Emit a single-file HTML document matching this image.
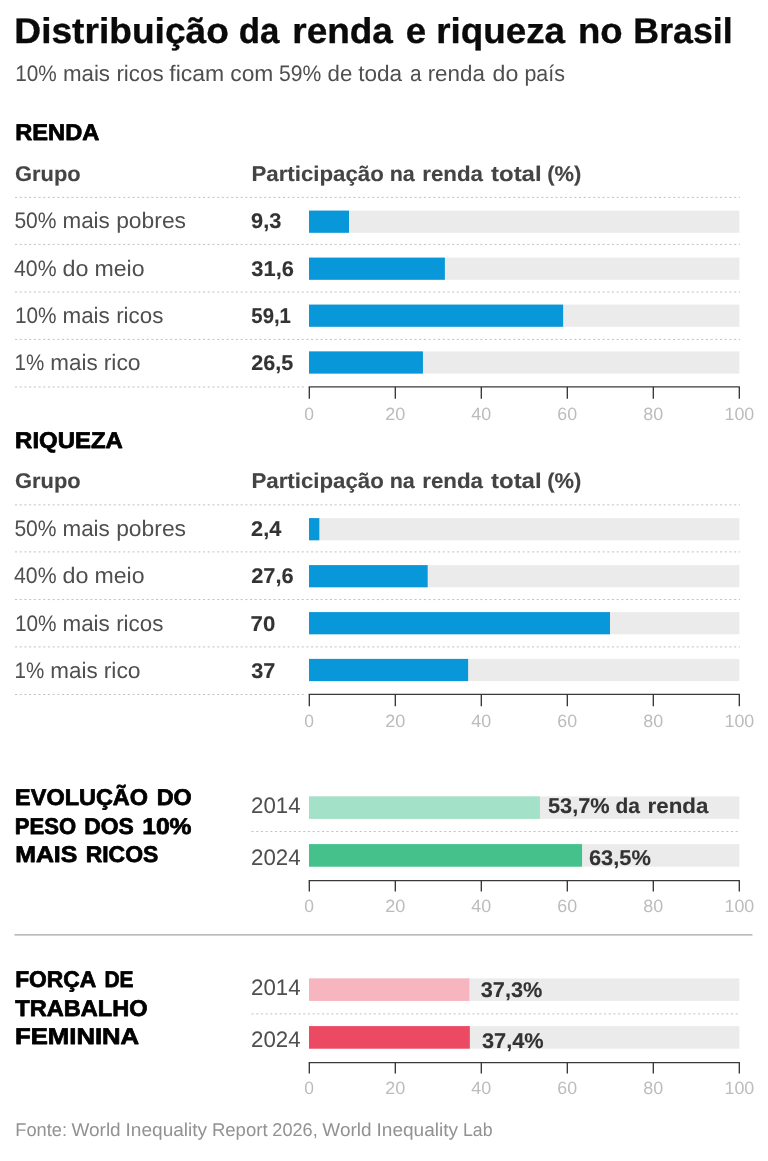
<!DOCTYPE html>
<html lang="pt-BR">
<head>
<meta charset="utf-8">
<title>Distribuição da renda e riqueza no Brasil</title>
<style>
html,body{margin:0;padding:0;background:#fff;}
body{width:768px;height:1161px;overflow:hidden;}
svg{display:block;font-family:"Liberation Sans", "DejaVu Sans", sans-serif;text-rendering:geometricPrecision;}
text{white-space:pre;}
</style>
</head>
<body>
<svg width="768" height="1161" viewBox="0 0 768 1161">
<rect width="768" height="1161" fill="#ffffff"/>
<g class="header">
<text id="t1" y="43.3" font-size="35.8" font-weight="700" fill="#0a0a0a" stroke="#0a0a0a" stroke-width="0.35" stroke-linejoin="round"><tspan x="14.33" textLength="214.58" lengthAdjust="spacingAndGlyphs">Distribuição</tspan> <tspan x="238.73" textLength="40.62" lengthAdjust="spacingAndGlyphs">da</tspan> <tspan x="292.28" textLength="100.64" lengthAdjust="spacingAndGlyphs">renda</tspan> <tspan x="405.76" textLength="20.36" lengthAdjust="spacingAndGlyphs">e</tspan> <tspan x="436.32" textLength="128.74" lengthAdjust="spacingAndGlyphs">riqueza</tspan> <tspan x="578.04" textLength="44.67" lengthAdjust="spacingAndGlyphs">no</tspan> <tspan x="633.37" textLength="99.28" lengthAdjust="spacingAndGlyphs">Brasil</tspan></text>
<text id="t2" y="80.6" font-size="22.4" font-weight="400" fill="#4f4f4f"><tspan x="15.13" textLength="41.57" lengthAdjust="spacingAndGlyphs">10%</tspan> <tspan x="62.89" textLength="47.15" lengthAdjust="spacingAndGlyphs">mais</tspan> <tspan x="116.39" textLength="47.18" lengthAdjust="spacingAndGlyphs">ricos</tspan> <tspan x="169.34" textLength="54.96" lengthAdjust="spacingAndGlyphs">ficam</tspan> <tspan x="230.24" textLength="43.11" lengthAdjust="spacingAndGlyphs">com</tspan> <tspan x="279.07" textLength="42.31" lengthAdjust="spacingAndGlyphs">59%</tspan> <tspan x="327.53" textLength="24.72" lengthAdjust="spacingAndGlyphs">de</tspan> <tspan x="358.21" textLength="43.98" lengthAdjust="spacingAndGlyphs">toda</tspan> <tspan x="409.88" textLength="11.56" lengthAdjust="spacingAndGlyphs">a</tspan> <tspan x="427.66" textLength="57.16" lengthAdjust="spacingAndGlyphs">renda</tspan> <tspan x="492.5" textLength="25.78" lengthAdjust="spacingAndGlyphs">do</tspan> <tspan x="524.45" textLength="40.46" lengthAdjust="spacingAndGlyphs">país</tspan></text>
</g>
<g class="table">
<text id="t3" x="15.24" y="140.15" font-size="22.75" font-weight="700" fill="#000000" textLength="84.07" lengthAdjust="spacingAndGlyphs" stroke="#000000" stroke-width="0.75" stroke-linejoin="round">RENDA</text>
<text id="t4" x="14.99" y="180.9" font-size="21.3" font-weight="700" fill="#444" textLength="65.63" lengthAdjust="spacingAndGlyphs" stroke="#444" stroke-width="0.12" stroke-linejoin="round">Grupo</text>
<text id="t5" y="180.9" font-size="21.3" font-weight="700" fill="#444" stroke="#444" stroke-width="0.12" stroke-linejoin="round"><tspan x="251.44" textLength="132.43" lengthAdjust="spacingAndGlyphs">Participação</tspan> <tspan x="389.71" textLength="25.08" lengthAdjust="spacingAndGlyphs">na</tspan> <tspan x="422.23" textLength="60.78" lengthAdjust="spacingAndGlyphs">renda</tspan> <tspan x="491.03" textLength="50.6" lengthAdjust="spacingAndGlyphs">total</tspan> <tspan x="547.16" textLength="34.13" lengthAdjust="spacingAndGlyphs">(%)</tspan></text>
<line x1="15" x2="740" y1="197.35" y2="197.35" stroke="#c2c2c2" stroke-width="1" stroke-dasharray="2.1 2.6"/>
<text id="t6" y="228.4" font-size="22.4" font-weight="400" fill="#4f4f4f"><tspan x="14.41" textLength="42.17" lengthAdjust="spacingAndGlyphs">50%</tspan> <tspan x="62.51" textLength="47.31" lengthAdjust="spacingAndGlyphs">mais</tspan> <tspan x="116.17" textLength="69.88" lengthAdjust="spacingAndGlyphs">pobres</tspan></text>
<text id="t7" x="251.04" y="228.4" font-size="21.3" font-weight="700" fill="#333" textLength="30.34" lengthAdjust="spacingAndGlyphs" stroke="#333" stroke-width="0.12" stroke-linejoin="round">9,3</text>
<rect x="309" y="210.6" width="430.4" height="22.2" fill="#ebebeb"/>
<rect x="309" y="210.6" width="39.99" height="22.2" fill="#0897d8"/>
<line x1="15" x2="740" y1="244.4" y2="244.4" stroke="#c2c2c2" stroke-width="1" stroke-dasharray="2.1 2.6"/>
<text id="t8" y="275.5" font-size="22.4" font-weight="400" fill="#4f4f4f"><tspan x="14.06" textLength="42.51" lengthAdjust="spacingAndGlyphs">40%</tspan> <tspan x="62.46" textLength="25.94" lengthAdjust="spacingAndGlyphs">do</tspan> <tspan x="94.46" textLength="50.1" lengthAdjust="spacingAndGlyphs">meio</tspan></text>
<text id="t9" x="251.39" y="275.5" font-size="21.3" font-weight="700" fill="#333" textLength="42.46" lengthAdjust="spacingAndGlyphs" stroke="#333" stroke-width="0.12" stroke-linejoin="round">31,6</text>
<rect x="309" y="257.6" width="430.4" height="22.2" fill="#ebebeb"/>
<rect x="309" y="257.6" width="135.88" height="22.2" fill="#0897d8"/>
<line x1="15" x2="740" y1="292.05" y2="292.05" stroke="#c2c2c2" stroke-width="1" stroke-dasharray="2.1 2.6"/>
<text id="t10" y="323" font-size="22.4" font-weight="400" fill="#4f4f4f"><tspan x="14.89" textLength="41.62" lengthAdjust="spacingAndGlyphs">10%</tspan> <tspan x="62.51" textLength="47.31" lengthAdjust="spacingAndGlyphs">mais</tspan> <tspan x="116.16" textLength="47.15" lengthAdjust="spacingAndGlyphs">ricos</tspan></text>
<text id="t11" x="251.33" y="323" font-size="21.3" font-weight="700" fill="#333" textLength="39.6" lengthAdjust="spacingAndGlyphs" stroke="#333" stroke-width="0.12" stroke-linejoin="round">59,1</text>
<rect x="309" y="304.6" width="430.4" height="22.2" fill="#ebebeb"/>
<rect x="309" y="304.6" width="254.13" height="22.2" fill="#0897d8"/>
<line x1="15" x2="740" y1="339.4" y2="339.4" stroke="#c2c2c2" stroke-width="1" stroke-dasharray="2.1 2.6"/>
<text id="t12" y="370.2" font-size="22.4" font-weight="400" fill="#4f4f4f"><tspan x="14.56" textLength="29.74" lengthAdjust="spacingAndGlyphs">1%</tspan> <tspan x="50.39" textLength="47.33" lengthAdjust="spacingAndGlyphs">mais</tspan> <tspan x="103.66" textLength="36.99" lengthAdjust="spacingAndGlyphs">rico</tspan></text>
<text id="t13" x="251.32" y="370.2" font-size="21.3" font-weight="700" fill="#333" textLength="42.04" lengthAdjust="spacingAndGlyphs" stroke="#333" stroke-width="0.12" stroke-linejoin="round">26,5</text>
<rect x="309" y="351.4" width="430.4" height="22.2" fill="#ebebeb"/>
<rect x="309" y="351.4" width="113.95" height="22.2" fill="#0897d8"/>
<line x1="15" x2="306" y1="387" y2="387" stroke="#c2c2c2" stroke-width="1" stroke-dasharray="2.1 2.6"/>
<line x1="308.65" x2="739.9" y1="386.9" y2="386.9" stroke="#3a3a3a" stroke-width="1.3"/>
<line x1="309.3" x2="309.3" y1="386.9" y2="398.7" stroke="#303030" stroke-width="1.3"/>
<text id="t14" x="309.18" y="419.6" font-size="17.8" font-weight="400" fill="#bcbcbc" text-anchor="middle" textLength="9.71" lengthAdjust="spacingAndGlyphs">0</text>
<line x1="395.3" x2="395.3" y1="386.9" y2="398.7" stroke="#303030" stroke-width="1.3"/>
<text id="t15" x="395.23" y="419.6" font-size="17.8" font-weight="400" fill="#bcbcbc" text-anchor="middle" textLength="20.1" lengthAdjust="spacingAndGlyphs">20</text>
<line x1="481.3" x2="481.3" y1="386.9" y2="398.7" stroke="#303030" stroke-width="1.3"/>
<text id="t16" x="481.21" y="419.6" font-size="17.8" font-weight="400" fill="#bcbcbc" text-anchor="middle" textLength="19.92" lengthAdjust="spacingAndGlyphs">40</text>
<line x1="567.3" x2="567.3" y1="386.9" y2="398.7" stroke="#303030" stroke-width="1.3"/>
<text id="t17" x="567.24" y="419.6" font-size="17.8" font-weight="400" fill="#bcbcbc" text-anchor="middle" textLength="19.79" lengthAdjust="spacingAndGlyphs">60</text>
<line x1="653.3" x2="653.3" y1="386.9" y2="398.7" stroke="#303030" stroke-width="1.3"/>
<text id="t18" x="653.25" y="419.6" font-size="17.8" font-weight="400" fill="#bcbcbc" text-anchor="middle" textLength="19.93" lengthAdjust="spacingAndGlyphs">80</text>
<line x1="739.3" x2="739.3" y1="386.9" y2="398.7" stroke="#303030" stroke-width="1.3"/>
<text id="t19" x="739.37" y="419.6" font-size="17.8" font-weight="400" fill="#bcbcbc" text-anchor="middle" textLength="29.75" lengthAdjust="spacingAndGlyphs">100</text>
</g>
<g class="table">
<text id="t20" x="15.14" y="447.65" font-size="22.75" font-weight="700" fill="#000000" textLength="107.71" lengthAdjust="spacingAndGlyphs" stroke="#000000" stroke-width="0.75" stroke-linejoin="round">RIQUEZA</text>
<text id="t21" x="14.99" y="488.4" font-size="21.3" font-weight="700" fill="#444" textLength="65.63" lengthAdjust="spacingAndGlyphs" stroke="#444" stroke-width="0.12" stroke-linejoin="round">Grupo</text>
<text id="t22" y="488.4" font-size="21.3" font-weight="700" fill="#444" stroke="#444" stroke-width="0.12" stroke-linejoin="round"><tspan x="251.44" textLength="132.43" lengthAdjust="spacingAndGlyphs">Participação</tspan> <tspan x="389.71" textLength="25.08" lengthAdjust="spacingAndGlyphs">na</tspan> <tspan x="422.23" textLength="60.78" lengthAdjust="spacingAndGlyphs">renda</tspan> <tspan x="491.03" textLength="50.6" lengthAdjust="spacingAndGlyphs">total</tspan> <tspan x="547.16" textLength="34.13" lengthAdjust="spacingAndGlyphs">(%)</tspan></text>
<line x1="15" x2="740" y1="504.85" y2="504.85" stroke="#c2c2c2" stroke-width="1" stroke-dasharray="2.1 2.6"/>
<text id="t23" y="535.9" font-size="22.4" font-weight="400" fill="#4f4f4f"><tspan x="14.41" textLength="42.17" lengthAdjust="spacingAndGlyphs">50%</tspan> <tspan x="62.51" textLength="47.31" lengthAdjust="spacingAndGlyphs">mais</tspan> <tspan x="116.17" textLength="69.88" lengthAdjust="spacingAndGlyphs">pobres</tspan></text>
<text id="t24" x="251.12" y="535.9" font-size="21.3" font-weight="700" fill="#333" textLength="30.19" lengthAdjust="spacingAndGlyphs" stroke="#333" stroke-width="0.12" stroke-linejoin="round">2,4</text>
<rect x="309" y="518.1" width="430.4" height="22.2" fill="#ebebeb"/>
<rect x="309" y="518.1" width="10.32" height="22.2" fill="#0897d8"/>
<line x1="15" x2="740" y1="551.9" y2="551.9" stroke="#c2c2c2" stroke-width="1" stroke-dasharray="2.1 2.6"/>
<text id="t25" y="583" font-size="22.4" font-weight="400" fill="#4f4f4f"><tspan x="14.06" textLength="42.51" lengthAdjust="spacingAndGlyphs">40%</tspan> <tspan x="62.46" textLength="25.94" lengthAdjust="spacingAndGlyphs">do</tspan> <tspan x="94.46" textLength="50.1" lengthAdjust="spacingAndGlyphs">meio</tspan></text>
<text id="t26" x="251.25" y="583" font-size="21.3" font-weight="700" fill="#333" textLength="42.42" lengthAdjust="spacingAndGlyphs" stroke="#333" stroke-width="0.12" stroke-linejoin="round">27,6</text>
<rect x="309" y="565.1" width="430.4" height="22.2" fill="#ebebeb"/>
<rect x="309" y="565.1" width="118.68" height="22.2" fill="#0897d8"/>
<line x1="15" x2="740" y1="599.55" y2="599.55" stroke="#c2c2c2" stroke-width="1" stroke-dasharray="2.1 2.6"/>
<text id="t27" y="630.5" font-size="22.4" font-weight="400" fill="#4f4f4f"><tspan x="14.89" textLength="41.62" lengthAdjust="spacingAndGlyphs">10%</tspan> <tspan x="62.51" textLength="47.31" lengthAdjust="spacingAndGlyphs">mais</tspan> <tspan x="116.16" textLength="47.15" lengthAdjust="spacingAndGlyphs">ricos</tspan></text>
<text id="t28" x="250.61" y="630.5" font-size="21.3" font-weight="700" fill="#333" textLength="24.71" lengthAdjust="spacingAndGlyphs" stroke="#333" stroke-width="0.12" stroke-linejoin="round">70</text>
<rect x="309" y="612.1" width="430.4" height="22.2" fill="#ebebeb"/>
<rect x="309" y="612.1" width="301" height="22.2" fill="#0897d8"/>
<line x1="15" x2="740" y1="646.9" y2="646.9" stroke="#c2c2c2" stroke-width="1" stroke-dasharray="2.1 2.6"/>
<text id="t29" y="677.7" font-size="22.4" font-weight="400" fill="#4f4f4f"><tspan x="14.56" textLength="29.74" lengthAdjust="spacingAndGlyphs">1%</tspan> <tspan x="50.39" textLength="47.33" lengthAdjust="spacingAndGlyphs">mais</tspan> <tspan x="103.66" textLength="36.99" lengthAdjust="spacingAndGlyphs">rico</tspan></text>
<text id="t30" x="251.34" y="677.7" font-size="21.3" font-weight="700" fill="#333" textLength="24.06" lengthAdjust="spacingAndGlyphs" stroke="#333" stroke-width="0.12" stroke-linejoin="round">37</text>
<rect x="309" y="658.9" width="430.4" height="22.2" fill="#ebebeb"/>
<rect x="309" y="658.9" width="159.1" height="22.2" fill="#0897d8"/>
<line x1="15" x2="306" y1="694.5" y2="694.5" stroke="#c2c2c2" stroke-width="1" stroke-dasharray="2.1 2.6"/>
<line x1="308.65" x2="739.9" y1="694.4" y2="694.4" stroke="#3a3a3a" stroke-width="1.3"/>
<line x1="309.3" x2="309.3" y1="694.4" y2="706.2" stroke="#303030" stroke-width="1.3"/>
<text id="t31" x="309.18" y="727.1" font-size="17.8" font-weight="400" fill="#bcbcbc" text-anchor="middle" textLength="9.71" lengthAdjust="spacingAndGlyphs">0</text>
<line x1="395.3" x2="395.3" y1="694.4" y2="706.2" stroke="#303030" stroke-width="1.3"/>
<text id="t32" x="395.23" y="727.1" font-size="17.8" font-weight="400" fill="#bcbcbc" text-anchor="middle" textLength="20.1" lengthAdjust="spacingAndGlyphs">20</text>
<line x1="481.3" x2="481.3" y1="694.4" y2="706.2" stroke="#303030" stroke-width="1.3"/>
<text id="t33" x="481.21" y="727.1" font-size="17.8" font-weight="400" fill="#bcbcbc" text-anchor="middle" textLength="19.92" lengthAdjust="spacingAndGlyphs">40</text>
<line x1="567.3" x2="567.3" y1="694.4" y2="706.2" stroke="#303030" stroke-width="1.3"/>
<text id="t34" x="567.24" y="727.1" font-size="17.8" font-weight="400" fill="#bcbcbc" text-anchor="middle" textLength="19.79" lengthAdjust="spacingAndGlyphs">60</text>
<line x1="653.3" x2="653.3" y1="694.4" y2="706.2" stroke="#303030" stroke-width="1.3"/>
<text id="t35" x="653.25" y="727.1" font-size="17.8" font-weight="400" fill="#bcbcbc" text-anchor="middle" textLength="19.93" lengthAdjust="spacingAndGlyphs">80</text>
<line x1="739.3" x2="739.3" y1="694.4" y2="706.2" stroke="#303030" stroke-width="1.3"/>
<text id="t36" x="739.37" y="727.1" font-size="17.8" font-weight="400" fill="#bcbcbc" text-anchor="middle" textLength="29.75" lengthAdjust="spacingAndGlyphs">100</text>
</g>
<g class="duo">
<text id="t37" y="805.15" font-size="22.75" font-weight="700" fill="#000000" stroke="#000000" stroke-width="0.75" stroke-linejoin="round"><tspan x="15.12" textLength="132.89" lengthAdjust="spacingAndGlyphs">EVOLUÇÃO</tspan> <tspan x="156.68" textLength="35.07" lengthAdjust="spacingAndGlyphs">DO</tspan></text>
<text id="t38" y="833.5" font-size="22.75" font-weight="700" fill="#000000" stroke="#000000" stroke-width="0.75" stroke-linejoin="round"><tspan x="14.86" textLength="61.31" lengthAdjust="spacingAndGlyphs">PESO</tspan> <tspan x="84.19" textLength="49.57" lengthAdjust="spacingAndGlyphs">DOS</tspan> <tspan x="142.21" textLength="49.29" lengthAdjust="spacingAndGlyphs">10%</tspan></text>
<text id="t39" y="861.85" font-size="22.75" font-weight="700" fill="#000000" stroke="#000000" stroke-width="0.75" stroke-linejoin="round"><tspan x="15.16" textLength="62.19" lengthAdjust="spacingAndGlyphs">MAIS</tspan> <tspan x="85.66" textLength="72.64" lengthAdjust="spacingAndGlyphs">RICOS</tspan></text>
<text id="t40" x="251.01" y="813" font-size="22.4" font-weight="400" fill="#4f4f4f" textLength="49.58" lengthAdjust="spacingAndGlyphs">2014</text>
<rect x="309" y="796.4" width="430.4" height="22.5" fill="#ebebeb"/>
<rect x="309" y="796.4" width="230.91" height="22.5" fill="#a3e2c8"/>
<text id="t41" y="812.8" font-size="21.3" font-weight="700" fill="#333" stroke="#333" stroke-width="0.12" stroke-linejoin="round"><tspan x="548.01" textLength="61.67" lengthAdjust="spacingAndGlyphs">53,7%</tspan> <tspan x="615.4" textLength="24.49" lengthAdjust="spacingAndGlyphs">da</tspan> <tspan x="647.56" textLength="60.85" lengthAdjust="spacingAndGlyphs">renda</tspan></text>
<line x1="251.5" x2="740" y1="831.55" y2="831.55" stroke="#c2c2c2" stroke-width="1" stroke-dasharray="2.1 2.6"/>
<text id="t42" x="251.01" y="865.2" font-size="22.4" font-weight="400" fill="#4f4f4f" textLength="49.58" lengthAdjust="spacingAndGlyphs">2024</text>
<rect x="309" y="844.1" width="430.4" height="22.6" fill="#ebebeb"/>
<rect x="309" y="844.1" width="273.05" height="22.6" fill="#45c28c"/>
<text id="t43" x="588.95" y="865.1" font-size="21.3" font-weight="700" fill="#333" textLength="61.93" lengthAdjust="spacingAndGlyphs" stroke="#333" stroke-width="0.12" stroke-linejoin="round">63,5%</text>
<line x1="308.65" x2="739.9" y1="880.7" y2="880.7" stroke="#3a3a3a" stroke-width="1.3"/>
<line x1="309.3" x2="309.3" y1="880.7" y2="891.5" stroke="#303030" stroke-width="1.3"/>
<text id="t44" x="309.18" y="912.1" font-size="17.8" font-weight="400" fill="#bcbcbc" text-anchor="middle" textLength="9.71" lengthAdjust="spacingAndGlyphs">0</text>
<line x1="395.3" x2="395.3" y1="880.7" y2="891.5" stroke="#303030" stroke-width="1.3"/>
<text id="t45" x="395.23" y="912.1" font-size="17.8" font-weight="400" fill="#bcbcbc" text-anchor="middle" textLength="20.1" lengthAdjust="spacingAndGlyphs">20</text>
<line x1="481.3" x2="481.3" y1="880.7" y2="891.5" stroke="#303030" stroke-width="1.3"/>
<text id="t46" x="481.21" y="912.1" font-size="17.8" font-weight="400" fill="#bcbcbc" text-anchor="middle" textLength="19.92" lengthAdjust="spacingAndGlyphs">40</text>
<line x1="567.3" x2="567.3" y1="880.7" y2="891.5" stroke="#303030" stroke-width="1.3"/>
<text id="t47" x="567.24" y="912.1" font-size="17.8" font-weight="400" fill="#bcbcbc" text-anchor="middle" textLength="19.79" lengthAdjust="spacingAndGlyphs">60</text>
<line x1="653.3" x2="653.3" y1="880.7" y2="891.5" stroke="#303030" stroke-width="1.3"/>
<text id="t48" x="653.25" y="912.1" font-size="17.8" font-weight="400" fill="#bcbcbc" text-anchor="middle" textLength="19.93" lengthAdjust="spacingAndGlyphs">80</text>
<line x1="739.3" x2="739.3" y1="880.7" y2="891.5" stroke="#303030" stroke-width="1.3"/>
<text id="t49" x="739.37" y="912.1" font-size="17.8" font-weight="400" fill="#bcbcbc" text-anchor="middle" textLength="29.75" lengthAdjust="spacingAndGlyphs">100</text>
</g>
<line x1="14.5" x2="752.5" y1="934.9" y2="934.9" stroke="#a4a4a4" stroke-width="1.25"/>
<g class="duo">
<text id="t50" y="987.15" font-size="22.75" font-weight="700" fill="#000000" stroke="#000000" stroke-width="0.75" stroke-linejoin="round"><tspan x="15.2" textLength="80.23" lengthAdjust="spacingAndGlyphs">FORÇA</tspan> <tspan x="104.45" textLength="29.15" lengthAdjust="spacingAndGlyphs">DE</tspan></text>
<text id="t51" x="15.26" y="1015.5" font-size="22.75" font-weight="700" fill="#000000" textLength="132.39" lengthAdjust="spacingAndGlyphs" stroke="#000000" stroke-width="0.75" stroke-linejoin="round">TRABALHO</text>
<text id="t52" x="15.06" y="1043.85" font-size="22.75" font-weight="700" fill="#000000" textLength="124.12" lengthAdjust="spacingAndGlyphs" stroke="#000000" stroke-width="0.75" stroke-linejoin="round">FEMININA</text>
<text id="t53" x="251.01" y="995" font-size="22.4" font-weight="400" fill="#4f4f4f" textLength="49.58" lengthAdjust="spacingAndGlyphs">2014</text>
<rect x="309" y="978.4" width="430.4" height="22.5" fill="#ebebeb"/>
<rect x="309" y="978.4" width="160.39" height="22.5" fill="#f7b5c0"/>
<text id="t54" x="480.76" y="997.3" font-size="21.3" font-weight="700" fill="#333" textLength="61.56" lengthAdjust="spacingAndGlyphs" stroke="#333" stroke-width="0.12" stroke-linejoin="round">37,3%</text>
<line x1="251.5" x2="740" y1="1013.9" y2="1013.9" stroke="#c2c2c2" stroke-width="1" stroke-dasharray="2.1 2.6"/>
<text id="t55" x="251.01" y="1047.2" font-size="22.4" font-weight="400" fill="#4f4f4f" textLength="49.58" lengthAdjust="spacingAndGlyphs">2024</text>
<rect x="309" y="1026.1" width="430.4" height="22.6" fill="#ebebeb"/>
<rect x="309" y="1026.1" width="160.82" height="22.6" fill="#ec4a62"/>
<text id="t56" x="482" y="1047.7" font-size="21.3" font-weight="700" fill="#333" textLength="61.71" lengthAdjust="spacingAndGlyphs" stroke="#333" stroke-width="0.12" stroke-linejoin="round">37,4%</text>
<line x1="308.65" x2="739.9" y1="1062.7" y2="1062.7" stroke="#3a3a3a" stroke-width="1.3"/>
<line x1="309.3" x2="309.3" y1="1062.7" y2="1073.5" stroke="#303030" stroke-width="1.3"/>
<text id="t57" x="309.18" y="1094.1" font-size="17.8" font-weight="400" fill="#bcbcbc" text-anchor="middle" textLength="9.71" lengthAdjust="spacingAndGlyphs">0</text>
<line x1="395.3" x2="395.3" y1="1062.7" y2="1073.5" stroke="#303030" stroke-width="1.3"/>
<text id="t58" x="395.23" y="1094.1" font-size="17.8" font-weight="400" fill="#bcbcbc" text-anchor="middle" textLength="20.1" lengthAdjust="spacingAndGlyphs">20</text>
<line x1="481.3" x2="481.3" y1="1062.7" y2="1073.5" stroke="#303030" stroke-width="1.3"/>
<text id="t59" x="481.21" y="1094.1" font-size="17.8" font-weight="400" fill="#bcbcbc" text-anchor="middle" textLength="19.92" lengthAdjust="spacingAndGlyphs">40</text>
<line x1="567.3" x2="567.3" y1="1062.7" y2="1073.5" stroke="#303030" stroke-width="1.3"/>
<text id="t60" x="567.24" y="1094.1" font-size="17.8" font-weight="400" fill="#bcbcbc" text-anchor="middle" textLength="19.79" lengthAdjust="spacingAndGlyphs">60</text>
<line x1="653.3" x2="653.3" y1="1062.7" y2="1073.5" stroke="#303030" stroke-width="1.3"/>
<text id="t61" x="653.25" y="1094.1" font-size="17.8" font-weight="400" fill="#bcbcbc" text-anchor="middle" textLength="19.93" lengthAdjust="spacingAndGlyphs">80</text>
<line x1="739.3" x2="739.3" y1="1062.7" y2="1073.5" stroke="#303030" stroke-width="1.3"/>
<text id="t62" x="739.37" y="1094.1" font-size="17.8" font-weight="400" fill="#bcbcbc" text-anchor="middle" textLength="29.75" lengthAdjust="spacingAndGlyphs">100</text>
</g>
<text id="t63" y="1136" font-size="18.5" font-weight="400" fill="#929292"><tspan x="15.32" textLength="51.73" lengthAdjust="spacingAndGlyphs">Fonte:</tspan> <tspan x="71.45" textLength="49.24" lengthAdjust="spacingAndGlyphs">World</tspan> <tspan x="125.58" textLength="81.57" lengthAdjust="spacingAndGlyphs">Inequality</tspan> <tspan x="211.92" textLength="55.65" lengthAdjust="spacingAndGlyphs">Report</tspan> <tspan x="272.36" textLength="45.34" lengthAdjust="spacingAndGlyphs">2026,</tspan> <tspan x="322.38" textLength="49.17" lengthAdjust="spacingAndGlyphs">World</tspan> <tspan x="376.52" textLength="81.59" lengthAdjust="spacingAndGlyphs">Inequality</tspan> <tspan x="463.01" textLength="29.56" lengthAdjust="spacingAndGlyphs">Lab</tspan></text>
</svg>
</body>
</html>
